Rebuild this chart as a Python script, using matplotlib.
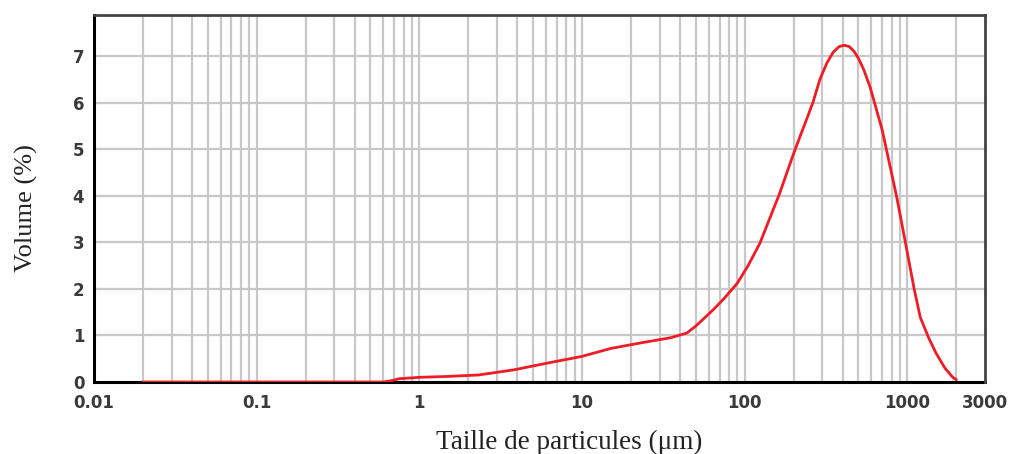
import matplotlib
matplotlib.use("Agg")
import matplotlib.pyplot as plt
from matplotlib.ticker import FixedLocator, NullFormatter

# Data
size_um = [0.02, 0.1, 0.3, 0.6, 0.68, 0.75, 1.0, 1.5, 2.3, 3.8, 6.0, 10, 15, 23, 35, 44,
           50, 64, 75, 90, 105, 124, 164, 200, 262, 290, 320, 350, 380, 410, 440, 470,
           500, 540, 590, 700, 860, 1000, 1100, 1200, 1350, 1500, 1700, 1900, 2000]
volume_pct = [0.0, 0.0, 0.0, 0.0, 0.03, 0.07, 0.1, 0.12, 0.15, 0.26, 0.4, 0.55, 0.72, 0.84,
              0.95, 1.05, 1.2, 1.55, 1.8, 2.12, 2.5, 2.98, 4.05, 4.91, 5.99, 6.5, 6.85,
              7.08, 7.2, 7.23, 7.2, 7.1, 6.95, 6.7, 6.33, 5.41, 3.97, 2.77, 2.0, 1.39,
              0.95, 0.62, 0.3, 0.1, 0.05]

x_tick_values = [0.01, 0.1, 1, 10, 100, 1000, 3000]
x_tick_labels = ["0.01", "0.1", "1", "10", "100", "1000", "3000"]
y_tick_values = [0, 1, 2, 3, 4, 5, 6, 7]
xlabel = "Taille de particules (μm)"
ylabel = "Volume (%)"

fig = plt.figure(figsize=(10.16, 4.54), dpi=100)
ax = fig.add_axes([0.0925, 0.1586, 0.877, 0.8084])

ax.set_xscale("log")
ax.set_xlim(0.01, 3000)
ax.set_ylim(0, 7.88)

# vertical grid at every 1..9 x decade
grid_x = [m * 10.0 ** e for e in range(-2, 4) for m in range(1, 10)]
grid_x = [g for g in grid_x if 0.01 < g < 3000]
for g in grid_x:
    ax.axvline(g, color="#c8c8c8", lw=1.6, zorder=1)
for yv in y_tick_values[1:]:
    ax.axhline(yv, color="#c8c8c8", lw=1.6, zorder=1)

ax.plot(size_um, volume_pct, color="#ee1c25", lw=2.0, zorder=3,
        solid_capstyle="round", solid_joinstyle="round")

ax.xaxis.set_major_locator(FixedLocator(x_tick_values))
ax.xaxis.set_minor_locator(FixedLocator([]))
ax.xaxis.set_minor_formatter(NullFormatter())
ax.set_xticks(x_tick_values)
ax.set_xticklabels(x_tick_labels)
ax.set_yticks(y_tick_values)
ax.set_yticklabels([str(v) for v in y_tick_values])

for lab in ax.get_xticklabels() + ax.get_yticklabels():
    lab.set_fontfamily("DejaVu Sans")
    lab.set_fontweight("bold")
    lab.set_fontsize(12)
    lab.set_color("#3a3a3a")

ax.tick_params(axis="both", length=0)
ax.tick_params(axis="x", pad=9)
ax.tick_params(axis="y", pad=7)

ax.set_xlabel(xlabel, family="Liberation Serif", fontsize=19.5, color="#222222")
ax.set_ylabel(ylabel, family="Liberation Serif", fontsize=19, color="#222222")
ax.xaxis.set_label_coords(0.533, -0.13)
ax.yaxis.set_label_coords(-0.063, 0.474)

for side in ["left", "bottom"]:
    ax.spines[side].set_color("black")
    ax.spines[side].set_linewidth(2.2)
for side in ["top", "right"]:
    ax.spines[side].set_color("#444444")
    ax.spines[side].set_linewidth(2.0)
    ax.spines[side].set_zorder(4)

fig.savefig("out.png", dpi=100, facecolor="white")
